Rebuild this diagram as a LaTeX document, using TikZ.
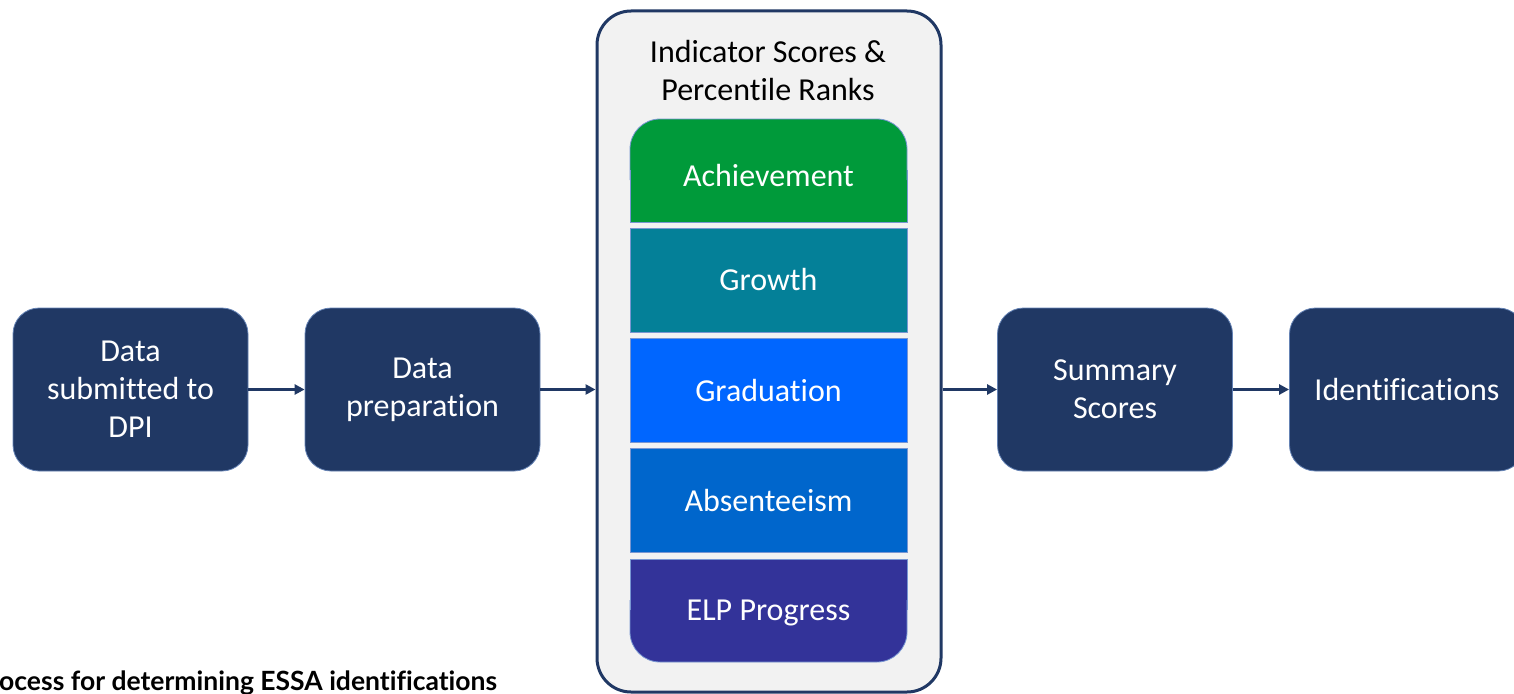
\documentclass[tikz,border=0pt]{standalone}
\usepackage{fontspec}
\setmainfont{Carlito}[Ligatures={NoCommon}, Contextuals={NoAlternate}]
\newfontfamily\capfont{Lato}[Ligatures={NoCommon}, Contextuals={NoAlternate}]
\usetikzlibrary{arrows.meta}
\definecolor{navy}{RGB}{32,56,100}
\definecolor{navyedge}{RGB}{100,130,180}
\definecolor{panel}{RGB}{242,242,242}
\definecolor{cgreen}{RGB}{0,154,58}
\definecolor{cteal}{RGB}{4,128,152}
\definecolor{cblue}{RGB}{0,102,255}
\definecolor{cmid}{RGB}{0,102,204}
\definecolor{cpurple}{RGB}{51,51,153}
\definecolor{baredge}{RGB}{120,150,210}
\tikzset{
  procbox/.style={fill=navy, draw=navyedge, line width=0.8pt, rounded corners=26pt,
    minimum width=235pt, minimum height=163pt, inner sep=0pt, text=white,
    align=center, font=\fontsize{32}{38}\selectfont},
  barlabel/.style={text=white, font=\fontsize{32}{38}\selectfont, inner sep=0pt},
  midbar/.style={fill=#1, draw=baredge, line width=0.8pt, minimum width=277pt,
    minimum height=104pt, inner sep=0pt, text=white, font=\fontsize{32}{38}\selectfont},
  flow/.style={draw=navy, line width=3pt, -{Triangle[length=10pt,width=10pt]}},
}
\begin{document}
\begin{tikzpicture}[x=1pt,y=-1pt]
\useasboundingbox (0,0) rectangle (1514,693);
% container
\node[fill=panel, draw=navy, line width=3pt, rounded corners=34pt,
  minimum width=344pt, minimum height=681pt, inner sep=0pt] (cont) at (769,351.5) {};
\node[align=center, font=\fontsize{32}{38}\selectfont, text=black] (title) at (768,71) {Indicator Scores \&\\Percentile Ranks};
% top bar (rounded top)
\fill[cgreen, rounded corners=30pt] (630,119) rectangle (907,222);
\fill[cgreen] (630,170) rectangle (907,222);
\draw[baredge, line width=0.8pt] (630,170) -- (630,222) -- (907,222) -- (907,170);
\draw[baredge, line width=0.8pt, rounded corners=30pt] (630,180) -- (630,119) -- (907,119) -- (907,180);
\node[barlabel] (ach) at (768.5,176) {Achievement};
% middle bars
\node[midbar=cteal] (gro) at (768.5,280) {Growth};
\node[midbar=cblue] (gra) at (768.5,390.5) {Graduation};
\node[midbar=cmid] (abs) at (768.5,500.5) {Absenteeism};
% bottom bar (rounded bottom)
\fill[cpurple, rounded corners=30pt] (630,559) rectangle (907,662);
\fill[cpurple] (630,559) rectangle (907,610);
\draw[baredge, line width=0.8pt] (630,610) -- (630,559) -- (907,559) -- (907,610);
\draw[baredge, line width=0.8pt, rounded corners=30pt] (630,600) -- (630,662) -- (907,662) -- (907,600);
\node[barlabel] (elp) at (768.5,613) {ELP Progress};
% process boxes
\node[procbox] (dpi) at (130.5,389.5) {Data\\submitted to\\DPI};
\node[procbox] (prep) at (422.5,389.5) {Data\\preparation};
\node[procbox] (sum) at (1115,389.5) {Summary\\Scores};
\node[procbox] (ident) at (1407,389.5) {Identifications};
% arrows
\draw[flow] (dpi.east) -- (prep.west);
\draw[flow] (prep.east) -- (prep.east -| cont.west);
\draw[flow] (sum.west -| cont.east) -- (sum.west);
\draw[flow] (sum.east) -- (ident.west);
% caption
\node[anchor=base west, inner sep=0pt, font=\capfont\bfseries\fontsize{26.5}{30}\selectfont] (cap) at (-1,690) {ocess for determining ESSA identifications};
\end{tikzpicture}
\end{document}
